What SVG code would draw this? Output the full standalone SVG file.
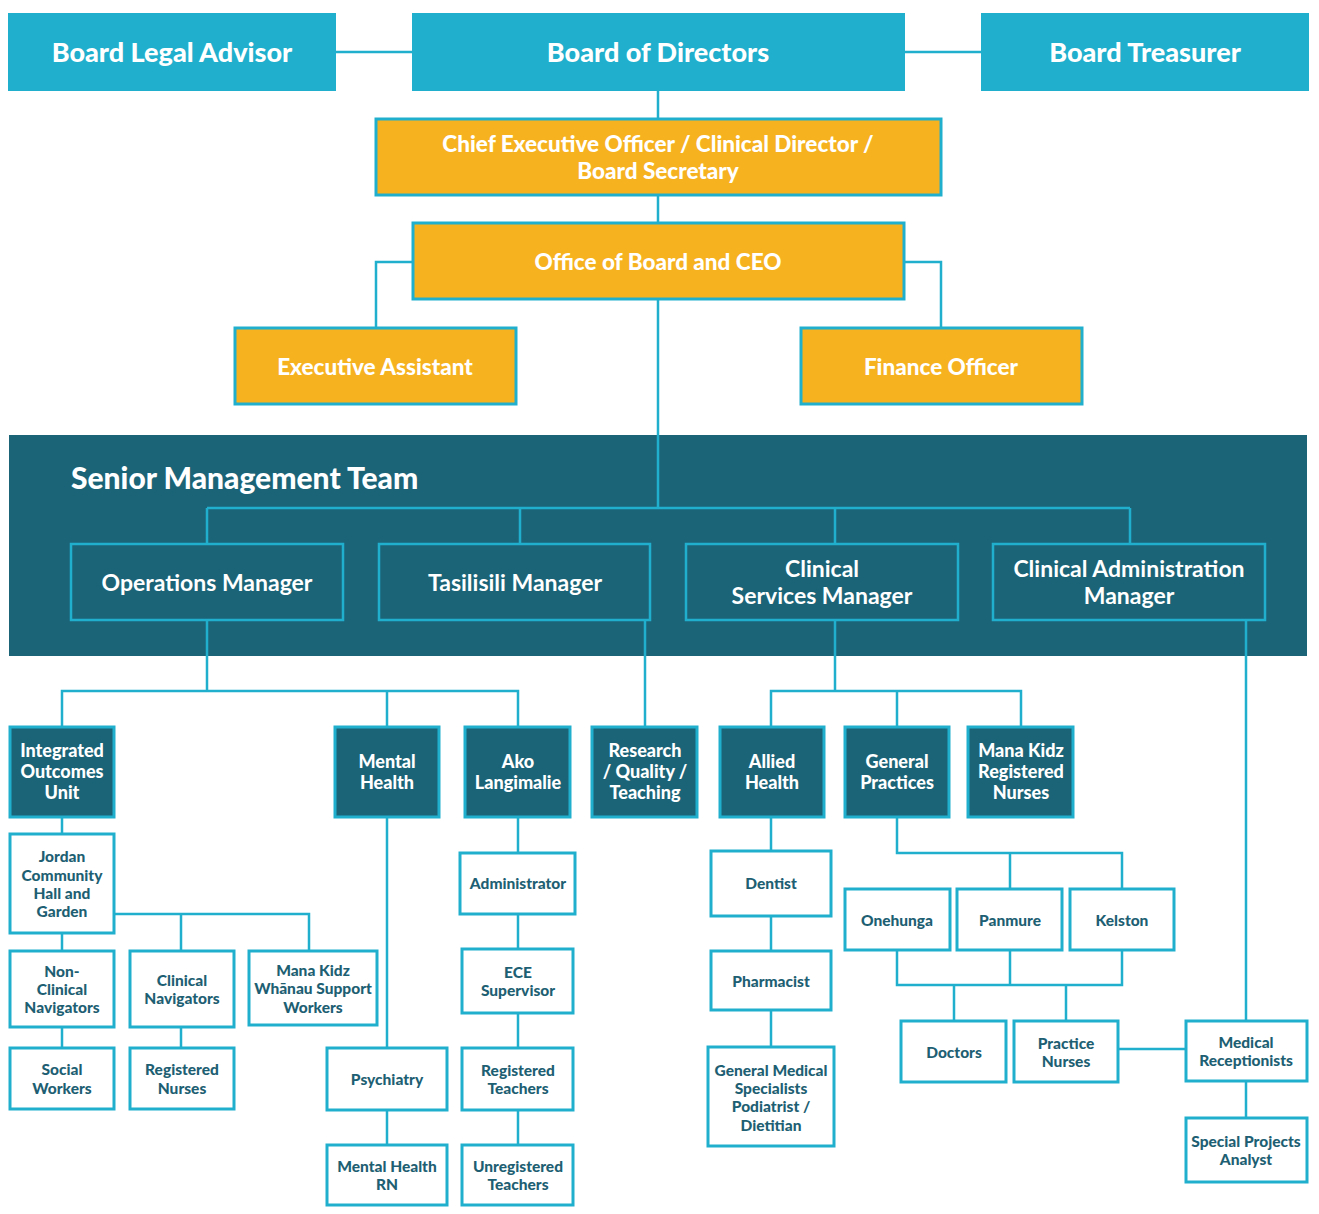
<svg xmlns="http://www.w3.org/2000/svg" width="1319" height="1214" viewBox="0 0 1319 1214">
<style>
.top{fill:#20AFCD}
.org{fill:#F7B220;stroke:#20AFCD;stroke-width:3}
.band{fill:#1B6478}
.mgr{fill:#1B6478;stroke:#20AFCD;stroke-width:2.5}
.dk{fill:#1B6478;stroke:#20AFCD;stroke-width:3}
.wt{fill:#FFFFFF;stroke:#20AFCD;stroke-width:3}
.ln{fill:none;stroke:#20AFCD;stroke-width:2.5}
text{font-family:Lato,"Open Sans","DejaVu Sans",sans-serif;font-weight:700;text-anchor:middle}
.t1{fill:#FFFFFF;font-size:27px;font-weight:900}
.t2{fill:#FFFFFF;font-size:22.5px;font-weight:900}
.t3{fill:#FFFFFF;font-size:23px}
.smt{fill:#FFFFFF;font-size:30px;font-weight:900;text-anchor:start}
.t4{fill:#FFFFFF;font-size:18px;font-weight:900}
.t5{fill:#1E5F73;font-size:15.5px;font-weight:900}
</style>
<g id="connectors">
<path class="ln" d="M336 52H412M905 52H981M658 91V119M658 195V223M658 299V508"/>
<path class="ln" d="M413 262H376V328M904 262H941V328"/>
<path class="ln" d="M207 544V508H1130V544M520 508V544M835 508V544"/>
<path class="ln" d="M207 620V691M62 727V691H518V727M387 691V727"/>
<path class="ln" d="M645 620V727"/>
<path class="ln" d="M835 620V691M771 727V691H1021V727M897 691V727"/>
<path class="ln" d="M1246 620V1021"/>
<path class="ln" d="M62 817V834M62 933V951M114 914H309V951M181 914V951M62 1027V1048M181 1027V1048"/>
<path class="ln" d="M387 817V1048M387 1110V1145"/>
<path class="ln" d="M518 817V853M518 914V949M518 1013V1048M518 1110V1145"/>
<path class="ln" d="M771 817V851M771 916V951M771 1010V1047"/>
<path class="ln" d="M897 817V853H1122V889M1010 853V889"/>
<path class="ln" d="M897 950V985H1122V950M1010 950V985M954 985V1021M1066 985V1021"/>
<path class="ln" d="M1118 1049H1186M1246 1081V1118"/>
</g>
<g id="board-legal-advisor"><rect class="top" x="8" y="13" width="328" height="78"/><text class="t1" x="172" y="62">Board Legal Advisor</text></g>
<g id="board-of-directors"><rect class="top" x="412" y="13" width="493" height="78"/><text class="t1" x="658" y="62">Board of Directors</text></g>
<g id="board-treasurer"><rect class="top" x="981" y="13" width="328" height="78"/><text class="t1" x="1145" y="62">Board Treasurer</text></g>
<g id="ceo"><rect class="org" x="376" y="119" width="565" height="76"/><text class="t2" x="658" y="152">Chief Executive Officer / Clinical Director /</text><text class="t2" x="658" y="179">Board Secretary</text></g>
<g id="office"><rect class="org" x="413" y="223" width="491" height="76"/><text class="t2" x="658" y="270">Office of Board and CEO</text></g>
<g id="executive-assistant"><rect class="org" x="235" y="328" width="281" height="76"/><text class="t2" x="375" y="375">Executive Assistant</text></g>
<g id="finance-officer"><rect class="org" x="801" y="328" width="281" height="76"/><text class="t2" x="941" y="375">Finance Officer</text></g>
<g id="senior-management-team"><rect class="band" x="9" y="435" width="1298" height="221"/><text class="smt" x="71" y="489">Senior Management Team</text></g>
<path class="ln" d="M658 435V508M207 508H1130M207 508V544M520 508V544M835 508V544M1130 508V544M207 620V656M645 620V656M835 620V656M1246 620V656"/>
<g id="operations-manager"><rect class="mgr" x="71" y="544" width="272" height="76"/><text class="t3" x="207" y="591">Operations Manager</text></g>
<g id="tasilisili-manager"><rect class="mgr" x="379" y="544" width="271" height="76"/><text class="t3" x="515" y="591">Tasilisili Manager</text></g>
<g id="clinical-services-manager"><rect class="mgr" x="686" y="544" width="272" height="76"/><text class="t3" x="822" y="577">Clinical</text><text class="t3" x="822" y="604">Services Manager</text></g>
<g id="clinical-administration-manager"><rect class="mgr" x="993" y="544" width="272" height="76"/><text class="t3" x="1129" y="577">Clinical Administration</text><text class="t3" x="1129" y="604">Manager</text></g>
<g id="integrated-outcomes-unit"><rect class="dk" x="10" y="727" width="104" height="90"/><text class="t4" x="62" y="757">Integrated</text><text class="t4" x="62" y="778">Outcomes</text><text class="t4" x="62" y="799">Unit</text></g>
<g id="mental-health"><rect class="dk" x="335" y="727" width="104" height="90"/><text class="t4" x="387" y="768">Mental</text><text class="t4" x="387" y="789">Health</text></g>
<g id="ako-langimalie"><rect class="dk" x="465" y="727" width="105" height="90"/><text class="t4" x="518" y="768">Ako</text><text class="t4" x="518" y="789">Langimalie</text></g>
<g id="research-quality-teaching"><rect class="dk" x="592" y="727" width="105" height="90"/><text class="t4" x="645" y="757">Research</text><text class="t4" x="645" y="778">/ Quality /</text><text class="t4" x="645" y="799">Teaching</text></g>
<g id="allied-health"><rect class="dk" x="720" y="727" width="104" height="90"/><text class="t4" x="772" y="768">Allied</text><text class="t4" x="772" y="789">Health</text></g>
<g id="general-practices"><rect class="dk" x="845" y="727" width="104" height="90"/><text class="t4" x="897" y="768">General</text><text class="t4" x="897" y="789">Practices</text></g>
<g id="mana-kidz-registered-nurses"><rect class="dk" x="968" y="727" width="105" height="90"/><text class="t4" x="1021" y="757">Mana Kidz</text><text class="t4" x="1021" y="778">Registered</text><text class="t4" x="1021" y="799">Nurses</text></g>
<g id="jordan"><rect class="wt" x="10" y="834" width="104" height="99"/><text class="t5" x="62" y="862">Jordan</text><text class="t5" x="62" y="881">Community</text><text class="t5" x="62" y="899">Hall and</text><text class="t5" x="62" y="917">Garden</text></g>
<g id="non-clinical-navigators"><rect class="wt" x="10" y="951" width="104" height="76"/><text class="t5" x="62" y="977">Non-</text><text class="t5" x="62" y="995">Clinical</text><text class="t5" x="62" y="1013">Navigators</text></g>
<g id="clinical-navigators"><rect class="wt" x="130" y="951" width="104" height="76"/><text class="t5" x="182" y="986">Clinical</text><text class="t5" x="182" y="1004">Navigators</text></g>
<g id="mana-kidz-whanau"><rect class="wt" x="249" y="951" width="128" height="74"/><text class="t5" x="313" y="976">Mana Kidz</text><text class="t5" x="313" y="994">Whānau Support</text><text class="t5" x="313" y="1013">Workers</text></g>
<g id="social-workers"><rect class="wt" x="10" y="1048" width="104" height="61"/><text class="t5" x="62" y="1075">Social</text><text class="t5" x="62" y="1094">Workers</text></g>
<g id="registered-nurses"><rect class="wt" x="130" y="1048" width="104" height="61"/><text class="t5" x="182" y="1075">Registered</text><text class="t5" x="182" y="1094">Nurses</text></g>
<g id="psychiatry"><rect class="wt" x="327" y="1048" width="120" height="62"/><text class="t5" x="387" y="1085">Psychiatry</text></g>
<g id="mental-health-rn"><rect class="wt" x="327" y="1145" width="120" height="60"/><text class="t5" x="387" y="1172">Mental Health</text><text class="t5" x="387" y="1190">RN</text></g>
<g id="administrator"><rect class="wt" x="460" y="853" width="115" height="61"/><text class="t5" x="518" y="889">Administrator</text></g>
<g id="ece-supervisor"><rect class="wt" x="462" y="949" width="111" height="64"/><text class="t5" x="518" y="978">ECE</text><text class="t5" x="518" y="996">Supervisor</text></g>
<g id="registered-teachers"><rect class="wt" x="462" y="1048" width="111" height="62"/><text class="t5" x="518" y="1076">Registered</text><text class="t5" x="518" y="1094">Teachers</text></g>
<g id="unregistered-teachers"><rect class="wt" x="462" y="1145" width="111" height="60"/><text class="t5" x="518" y="1172">Unregistered</text><text class="t5" x="518" y="1190">Teachers</text></g>
<g id="dentist"><rect class="wt" x="711" y="851" width="120" height="65"/><text class="t5" x="771" y="889">Dentist</text></g>
<g id="pharmacist"><rect class="wt" x="711" y="951" width="120" height="59"/><text class="t5" x="771" y="987">Pharmacist</text></g>
<g id="general-medical-specialists"><rect class="wt" x="708" y="1047" width="126" height="99"/><text class="t5" x="771" y="1076">General Medical</text><text class="t5" x="771" y="1094">Specialists</text><text class="t5" x="771" y="1112">Podiatrist /</text><text class="t5" x="771" y="1131">Dietitian</text></g>
<g id="onehunga"><rect class="wt" x="845" y="889" width="105" height="61"/><text class="t5" x="897" y="926">Onehunga</text></g>
<g id="panmure"><rect class="wt" x="957" y="889" width="105" height="61"/><text class="t5" x="1010" y="926">Panmure</text></g>
<g id="kelston"><rect class="wt" x="1070" y="889" width="104" height="61"/><text class="t5" x="1122" y="926">Kelston</text></g>
<g id="doctors"><rect class="wt" x="901" y="1021" width="105" height="61"/><text class="t5" x="954" y="1058">Doctors</text></g>
<g id="practice-nurses"><rect class="wt" x="1014" y="1021" width="104" height="61"/><text class="t5" x="1066" y="1049">Practice</text><text class="t5" x="1066" y="1067">Nurses</text></g>
<g id="medical-receptionists"><rect class="wt" x="1186" y="1021" width="121" height="60"/><text class="t5" x="1246" y="1048">Medical</text><text class="t5" x="1246" y="1066">Receptionists</text></g>
<g id="special-projects-analyst"><rect class="wt" x="1186" y="1118" width="121" height="64"/><text class="t5" x="1246" y="1147">Special Projects</text><text class="t5" x="1246" y="1165">Analyst</text></g>
</svg>
